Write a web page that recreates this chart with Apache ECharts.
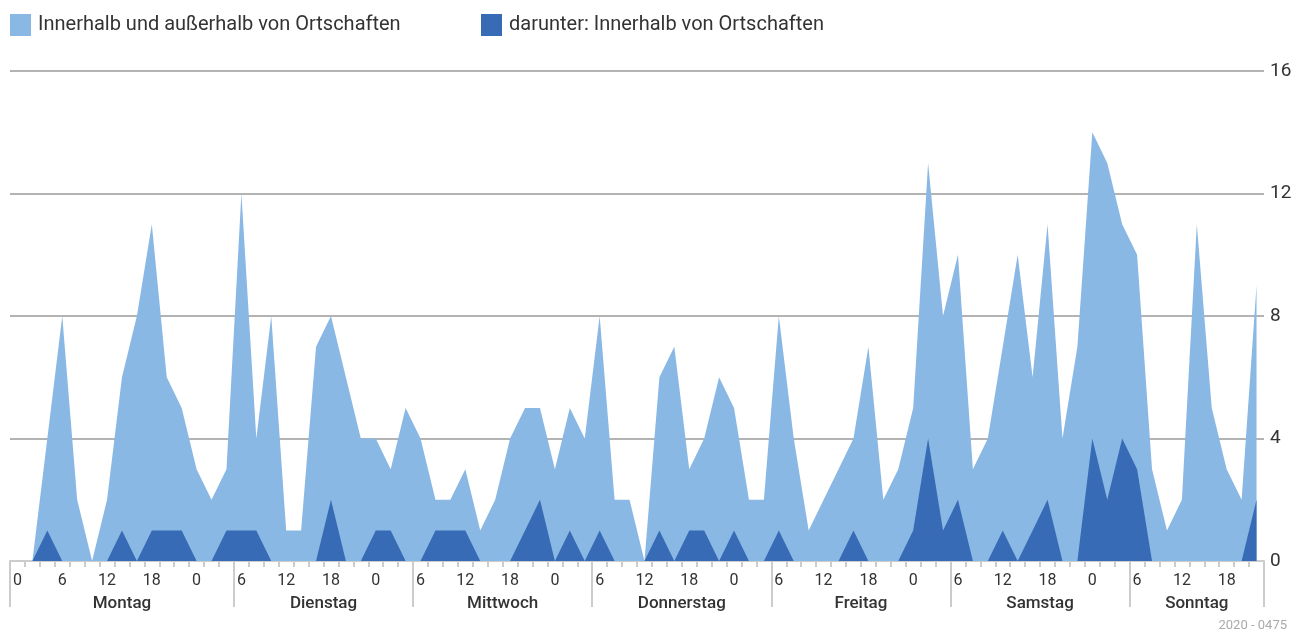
<!DOCTYPE html>
<html>
<head>
<meta charset="utf-8">
<script src="https://cdn.jsdelivr.net/npm/echarts@6/dist/echarts.min.js"></script>
<style>html,body{margin:0;padding:0;background:#fff;}#c{width:1295px;height:637px;}</style>
</head>
<body>
<div id="c"></div>
<script>
// Hour labels (2-hour steps); a "day" runs 6:00 to 6:00 (Monday starts at 0, Sunday ends at 22)
const hours = [
  '0','2','4','6','8','10','12','14','16','18','20','22','0','2','4',
  '6','8','10','12','14','16','18','20','22','0','2','4',
  '6','8','10','12','14','16','18','20','22','0','2','4',
  '6','8','10','12','14','16','18','20','22','0','2','4',
  '6','8','10','12','14','16','18','20','22','0','2','4',
  '6','8','10','12','14','16','18','20','22','0','2','4',
  '6','8','10','12','14','16','18','20','22'
];
const days = ['Montag','Dienstag','Mittwoch','Donnerstag','Freitag','Samstag','Sonntag'];
const dayLengths = [15,12,12,12,12,12,9];
const seriesNames = ['Innerhalb und außerhalb von Ortschaften','darunter: Innerhalb von Ortschaften'];
const total = [
  0,0,4,8,2,0,2,6,8,11,6,5,3,2,3,
  12,4,8,1,1,7,8,6,4,4,3,5,
  4,2,2,3,1,2,4,5,5,3,5,4,
  8,2,2,0,6,7,3,4,6,5,2,2,
  8,4,1,2,3,4,7,2,3,5,13,8,
  10,3,4,7,10,6,11,4,7,14,13,11,
  10,3,1,2,11,5,3,2,9
];
const inner = [
  0,0,1,0,0,0,0,1,0,1,1,1,0,0,1,
  1,1,0,0,0,0,2,0,0,1,1,0,
  0,1,1,1,0,0,0,1,2,0,1,0,
  1,0,0,0,1,0,1,1,0,1,0,0,
  1,0,0,0,0,1,0,0,0,1,4,1,
  2,0,0,1,0,1,2,0,0,4,2,4,
  3,0,0,0,0,0,0,0,2
];
const yTicks = [0,4,8,12,16];

// day boundaries and centers in category units
const bounds = [0];
dayLengths.forEach(l => bounds.push(bounds[bounds.length-1] + l));
const centers = dayLengths.map((l,i) => bounds[i] + l/2);

const chart = echarts.init(document.getElementById('c'), null, {renderer:'canvas'});
const axisFont = 'Roboto, "Noto Sans", sans-serif';
const legendText = {fontSize: 20, color: '#333', fontFamily: axisFont, padding: [0,0,0,2]};
chart.setOption({
  animation: false,
  backgroundColor: '#fff',
  title: {
    text: '2020 - 0475', right: 3, bottom: 0,
    textStyle: {fontSize: 13, fontWeight: 'normal', color: '#aaaaaa', fontFamily: axisFont}
  },
  legend: [
    {data: [seriesNames[0]], left: 5, top: 9, itemWidth: 21, itemHeight: 22, icon: 'rect', itemGap: 0, textStyle: legendText},
    {data: [seriesNames[1]], left: 476, top: 9, itemWidth: 21, itemHeight: 22, icon: 'rect', itemGap: 0, textStyle: legendText}
  ],
  grid: {left: 10, right: 31, top: 71, bottom: 76, containLabel: false},
  xAxis: [
    {
      type: 'category', data: hours, boundaryGap: true, position: 'bottom',
      axisLine: {show: true, lineStyle: {color: '#cccccc', width: 2}},
      axisTick: {show: true, interval: 0, length: 6, lineStyle: {color: '#cccccc', width: 2}},
      axisLabel: {interval: 2, margin: 12, fontSize: 16, color: '#333', fontFamily: axisFont},
      splitLine: {show: false}
    },
    {
      type: 'value', min: 0, max: bounds[bounds.length-1], position: 'bottom',
      axisLine: {show: false},
      axisTick: {show: true, customValues: bounds, length: 46, inside: false, lineStyle: {color: '#cccccc', width: 2}},
      axisLabel: {customValues: centers, margin: 34, fontSize: 17, fontWeight: 500, color: '#333', fontFamily: axisFont,
        formatter: v => { const i = centers.indexOf(v); return i >= 0 ? days[i] : ''; }},
      splitLine: {show: false}
    }
  ],
  yAxis: {
    type: 'value', position: 'right', min: yTicks[0], max: yTicks[yTicks.length-1], interval: 4,
    axisLine: {show: false}, axisTick: {show: false},
    axisLabel: {margin: 6, fontSize: 19, color: '#333', fontFamily: axisFont},
    splitLine: {show: true, lineStyle: {color: '#b3b3b3', width: 2}}
  },
  series: [
    {name: seriesNames[0], type: 'line', xAxisIndex: 0, data: total, symbol: 'none',
     itemStyle: {color: '#8ab8e4'}, lineStyle: {width: 0, color: '#8ab8e4'},
     areaStyle: {color: '#8ab8e4', opacity: 1}, z: 2},
    {name: seriesNames[1], type: 'line', xAxisIndex: 0, data: inner, symbol: 'none',
     itemStyle: {color: '#386bb5'}, lineStyle: {width: 0, color: '#386bb5'},
     areaStyle: {color: '#386bb5', opacity: 1}, z: 3}
  ]
});
</script>
</body>
</html>
